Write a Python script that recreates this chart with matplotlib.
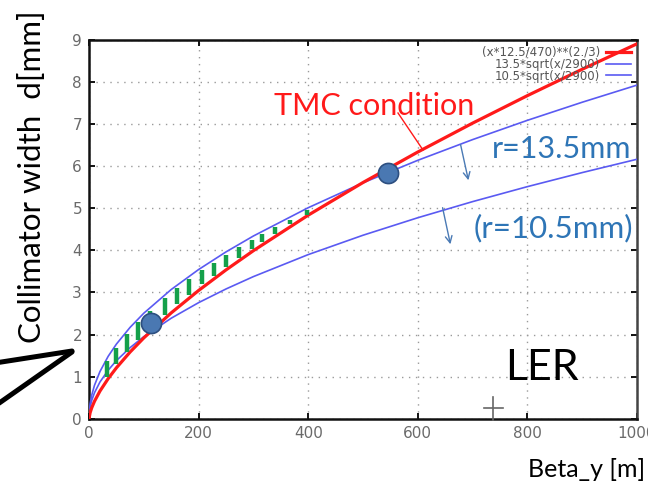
import matplotlib
matplotlib.use("Agg")
import matplotlib.pyplot as plt
from matplotlib.lines import Line2D
import numpy as np

# ---- data ----
beta = [0, 2, 5, 10, 20, 35, 50, 75, 100, 150, 200, 250, 300, 400, 500, 600, 700, 800, 900, 1000]
tmc = [0, 0.141, 0.261, 0.414, 0.657, 0.953, 1.209, 1.585, 1.920, 2.515, 3.047, 3.536, 3.993,
       4.837, 5.613, 6.338, 7.024, 7.678, 8.305, 8.909]
r135 = [0, 0.355, 0.561, 0.793, 1.121, 1.483, 1.773, 2.171, 2.507, 3.070, 3.545, 3.964, 4.342,
        5.014, 5.606, 6.141, 6.633, 7.091, 7.521, 7.928]
r105 = [0, 0.276, 0.436, 0.617, 0.872, 1.154, 1.379, 1.689, 1.950, 2.388, 2.758, 3.083, 3.377,
        3.900, 4.360, 4.776, 5.159, 5.515, 5.849, 6.166]

hatch_x = [33, 50, 70, 90, 112, 139, 161, 183, 207, 228, 250, 274, 297, 316, 340, 366, 397]
hatch_lo = [1.00, 1.29, 1.59, 1.87, 2.15, 2.47, 2.72, 2.95, 3.20, 3.40, 3.61, 3.83, 4.04, 4.20, 4.40, 4.62, 4.85]
hatch_hi = [1.36, 1.69, 2.02, 2.30, 2.57, 2.88, 3.10, 3.31, 3.53, 3.71, 3.88, 4.07, 4.24, 4.38, 4.55, 4.73, 4.97]

points_x = [114, 545]
points_y = [2.28, 5.84]

labels = ["(x*12.5/470)**(2./3)", "13.5*sqrt(x/2900)", "10.5*sqrt(x/2900)"]
xticks = [0, 200, 400, 600, 800, 1000]
yticks = list(range(0, 10))

W, H = 648, 487
fig = plt.figure(figsize=(W / 100, H / 100), dpi=100)
ax = fig.add_axes([89 / W, 1 - 418.7 / H, (637 - 89) / W, (418.7 - 40) / H])

def P(x, y):
    return (x / W, 1 - y / H)

narrow = ["Liberation Sans Narrow", "DejaVu Sans"]
calib = ["Lato", "DejaVu Sans"]

red = "#ff1a1a"
blue = "#5a5af2"
ax.plot(beta, tmc, color=red, lw=2.3, label=labels[0], zorder=4)
ax.plot(beta, r135, color=blue, lw=1.2, label=labels[1], zorder=3)
ax.plot(beta, r105, color=blue, lw=1.2, label=labels[2], zorder=3)
ax.vlines(hatch_x, hatch_lo, hatch_hi, color="#14a04a", lw=3.2, zorder=5)
ax.plot(points_x, points_y, "o", ms=14.5, mfc="#4a78b2", mec="#2d4f80", mew=1.2, zorder=6)

ax.set_xlim(0, 1000)
ax.set_ylim(0, 9)
ax.set_xticks(xticks)
ax.set_yticks(yticks)
ax.grid(True, color="#9a9a9a", lw=1.0, linestyle=(0, (1, 4)))
ax.tick_params(direction="in", top=True, right=True, length=4, width=1.3, colors="black",
               labelcolor="#6a6a6a", labelsize=11, pad=5)
for lab in ax.get_xticklabels() + ax.get_yticklabels():
    lab.set_family(narrow)
for s in ["left", "bottom", "top"]:
    ax.spines[s].set_linewidth(1.8)
    ax.spines[s].set_color("#111111")
ax.spines["right"].set_linewidth(1.8)
ax.spines["right"].set_color("#444444")

leg = ax.legend(loc="upper right", frameon=False, markerfirst=False, borderaxespad=0.4,
                borderpad=0.1, labelspacing=-0.1, handlelength=2.1, handletextpad=0.5,
                prop={"family": narrow, "size": 8.5})
for t in leg.get_texts():
    t.set_color("#555555")

# annotations
fig.text(*P(274, 115), "TMC condition", color=red, fontsize=22, family=calib, va="baseline")
fig.text(*P(492, 158), "r=13.5mm", color="#2e75b6", fontsize=22, family=calib, va="baseline")
fig.text(*P(474, 237), "(r=10.5mm)", color="#2e75b6", fontsize=22.5, family=calib, va="baseline")
fig.text(*P(505, 380), "LER", color="black", fontsize=31, family=calib, va="baseline")
fig.text(*P(32, 177), "Collimator width  d[mm]", color="black", fontsize=22.5, family=calib,
         rotation=90, ha="center", va="center")
fig.text(*P(645, 477), "Beta_y [m]", color="black", fontsize=18, family=calib,
         ha="right", va="baseline")

fig.add_artist(Line2D([P(398, 113)[0], P(423, 150)[0]], [P(398, 113)[1], P(423, 150)[1]],
                      color=red, lw=1.0, transform=fig.transFigure))
for (x0, y0, x1, y1) in [(460, 142, 469, 183), (442, 205, 451, 247)]:
    ax.annotate("", xy=P(x1, y1), xytext=P(x0, y0), xycoords="figure fraction",
                textcoords="figure fraction",
                arrowprops=dict(arrowstyle="->", color="#4a7ab5", lw=1.0, mutation_scale=12))

for (x0, y0, x1, y1) in [(-5, 363, 72, 351), (-5, 406, 72, 352)]:
    fig.add_artist(Line2D([P(x0, y0)[0], P(x1, y1)[0]], [P(x0, y0)[1], P(x1, y1)[1]],
                          color="black", lw=3.6, solid_capstyle="round", transform=fig.transFigure))

for (x0, y0, x1, y1) in [(484, 408, 503, 408), (493, 397, 493, 420)]:
    fig.add_artist(Line2D([P(x0, y0)[0], P(x1, y1)[0]], [P(x0, y0)[1], P(x1, y1)[1]],
                          color="#666666", lw=1.2, transform=fig.transFigure, zorder=10))

fig.savefig("out.png", dpi=100)
